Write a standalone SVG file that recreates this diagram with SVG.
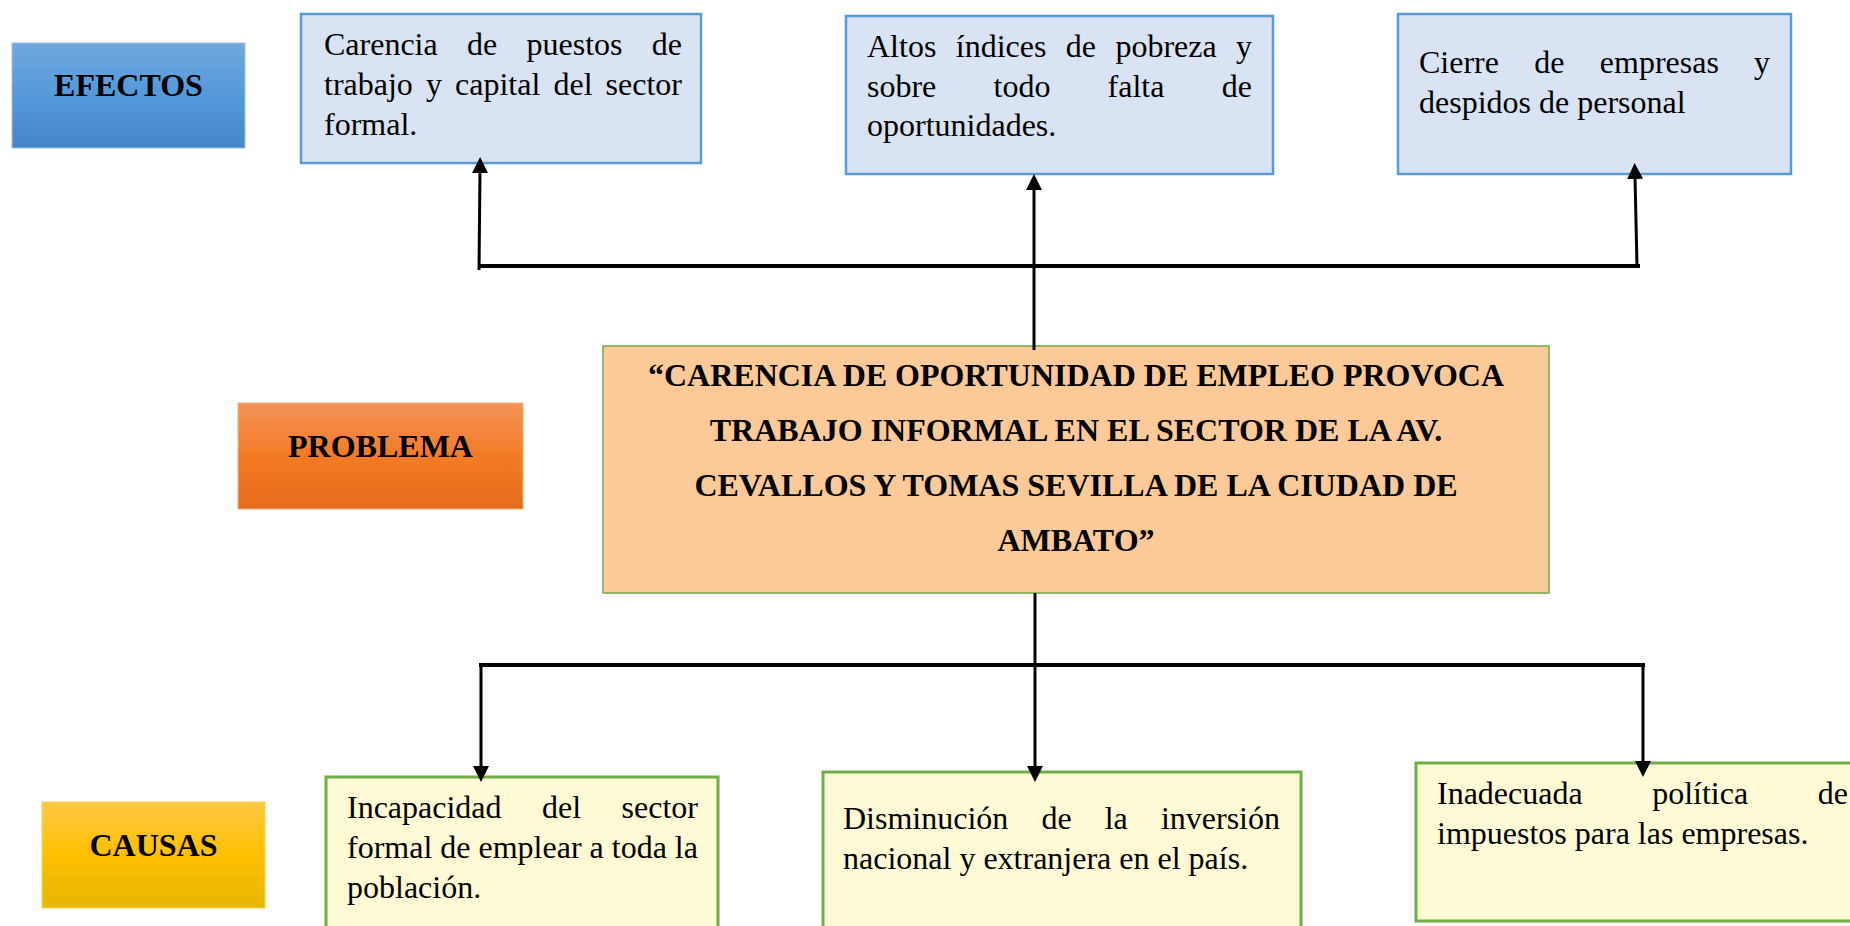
<svg xmlns="http://www.w3.org/2000/svg" width="1850" height="926" viewBox="0 0 1850 926">
<defs>
<linearGradient id="gBlue" x1="0" y1="0" x2="0" y2="1">
<stop offset="0" stop-color="#71A7DD"/><stop offset="0.5" stop-color="#5499DA"/><stop offset="1" stop-color="#4487C9"/>
</linearGradient>
<linearGradient id="gOrange" x1="0" y1="0" x2="0" y2="1">
<stop offset="0" stop-color="#F39359"/><stop offset="0.5" stop-color="#F47B25"/><stop offset="1" stop-color="#E46C1C"/>
</linearGradient>
<linearGradient id="gYellow" x1="0" y1="0" x2="0" y2="1">
<stop offset="0" stop-color="#FFC846"/><stop offset="0.5" stop-color="#FFC000"/><stop offset="1" stop-color="#E6B700"/>
</linearGradient>
<marker id="ah" viewBox="0 0 16 16" refX="2" refY="8" markerWidth="16" markerHeight="16" markerUnits="userSpaceOnUse" orient="auto">
<path d="M0,0 L16,8 L0,16 z" fill="#000"/>
</marker>
<style>
.t{font-family:"Liberation Serif","Times New Roman",serif;font-size:32px;fill:#000}
.b{font-weight:bold;text-anchor:middle}
.eff{fill:#DAE3F3;stroke:#5B9BD5;stroke-width:2.5}
.cau{fill:#FDFAD5;stroke:#70AD47;stroke-width:3}
.prob{fill:#FCCA98;stroke:#70AD47;stroke-width:1.5}
.hl{fill:none;stroke:#000;stroke-width:4}
.ar{fill:none;stroke:#000;stroke-width:3;marker-end:url(#ah)}
</style>
</defs>
<rect width="1850" height="926" fill="#FFFFFF"/>

<g id="label-efectos">
<rect x="12" y="43" width="233" height="105" fill="url(#gBlue)" stroke="#9CC0E8" stroke-width="1"/>
<text class="t b" x="128.5" y="96">EFECTOS</text>
</g>

<g id="label-problema">
<rect x="238" y="403" width="285" height="106" fill="url(#gOrange)" stroke="#F4B183" stroke-width="1"/>
<text class="t b" x="380.5" y="457">PROBLEMA</text>
</g>

<g id="label-causas">
<rect x="42" y="802" width="223" height="106" fill="url(#gYellow)" stroke="#FFD24D" stroke-width="1"/>
<text class="t b" x="153.5" y="856">CAUSAS</text>
</g>

<g id="efecto-1">
<rect class="eff" x="301" y="14" width="400" height="149"/>
<text class="t" y="55"><tspan x="324">Carencia</tspan><tspan x="467">de</tspan><tspan x="526.5">puestos</tspan><tspan x="682" text-anchor="end">de</tspan></text>
<text class="t" x="324" y="95" word-spacing="5.1">trabajo y capital del sector</text>
<text class="t" x="324" y="135">formal.</text>
</g>

<g id="efecto-2">
<rect class="eff" x="846" y="16" width="427" height="158"/>
<text class="t" x="867" y="57" word-spacing="11.4">Altos índices de pobreza y</text>
<text class="t" y="97"><tspan x="867">sobre</tspan><tspan x="993.5">todo</tspan><tspan x="1107.6">falta</tspan><tspan x="1252" text-anchor="end">de</tspan></text>
<text class="t" x="867" y="136">oportunidades.</text>
</g>

<g id="efecto-3">
<rect class="eff" x="1398" y="14" width="393" height="160"/>
<text class="t" y="73"><tspan x="1419">Cierre</tspan><tspan x="1534.3">de</tspan><tspan x="1599.8">empresas</tspan><tspan x="1770" text-anchor="end">y</tspan></text>
<text class="t" x="1419" y="113">despidos de personal</text>
</g>

<g id="problema">
<rect class="prob" x="603" y="346" width="946" height="247"/>
<text class="t b" x="1076" y="386">“CARENCIA DE OPORTUNIDAD DE EMPLEO PROVOCA</text>
<text class="t b" x="1076" y="441">TRABAJO INFORMAL EN EL SECTOR DE LA AV.</text>
<text class="t b" x="1076" y="496">CEVALLOS Y TOMAS SEVILLA DE LA CIUDAD DE</text>
<text class="t b" x="1076" y="551">AMBATO”</text>
</g>

<g id="causa-1">
<rect class="cau" x="326" y="777" width="392" height="160"/>
<text class="t" y="818"><tspan x="347">Incapacidad</tspan><tspan x="542">del</tspan><tspan x="698" text-anchor="end">sector</tspan></text>
<text class="t" x="347" y="858">formal de emplear a toda la</text>
<text class="t" x="347" y="898">población.</text>
</g>

<g id="causa-2">
<rect class="cau" x="823" y="772" width="478" height="165"/>
<text class="t" y="829"><tspan x="843">Disminución</tspan><tspan x="1041.4">de</tspan><tspan x="1104.7">la</tspan><tspan x="1280" text-anchor="end">inversión</tspan></text>
<text class="t" x="843" y="869">nacional y extranjera en el país.</text>
</g>

<g id="causa-3">
<rect class="cau" x="1416" y="763" width="450" height="158"/>
<text class="t" y="804"><tspan x="1437">Inadecuada</tspan><tspan x="1652.2">política</tspan><tspan x="1848" text-anchor="end">de</tspan></text>
<text class="t" x="1437" y="844">impuestos para las empresas.</text>
</g>

<g id="connectors">
<path class="hl" d="M478,266 L1640,266"/>
<path class="ar" d="M479,270 L480,171"/>
<path class="ar" d="M1034,350 L1034,188"/>
<path class="ar" d="M1637,266 L1635,177"/>
<path class="hl" d="M479,665 L1645,665"/>
<path class="ar" d="M481,663 L481,768"/>
<path class="ar" d="M1035,593 L1035,768"/>
<path class="ar" d="M1643,663 L1643,763"/>
</g>
</svg>
